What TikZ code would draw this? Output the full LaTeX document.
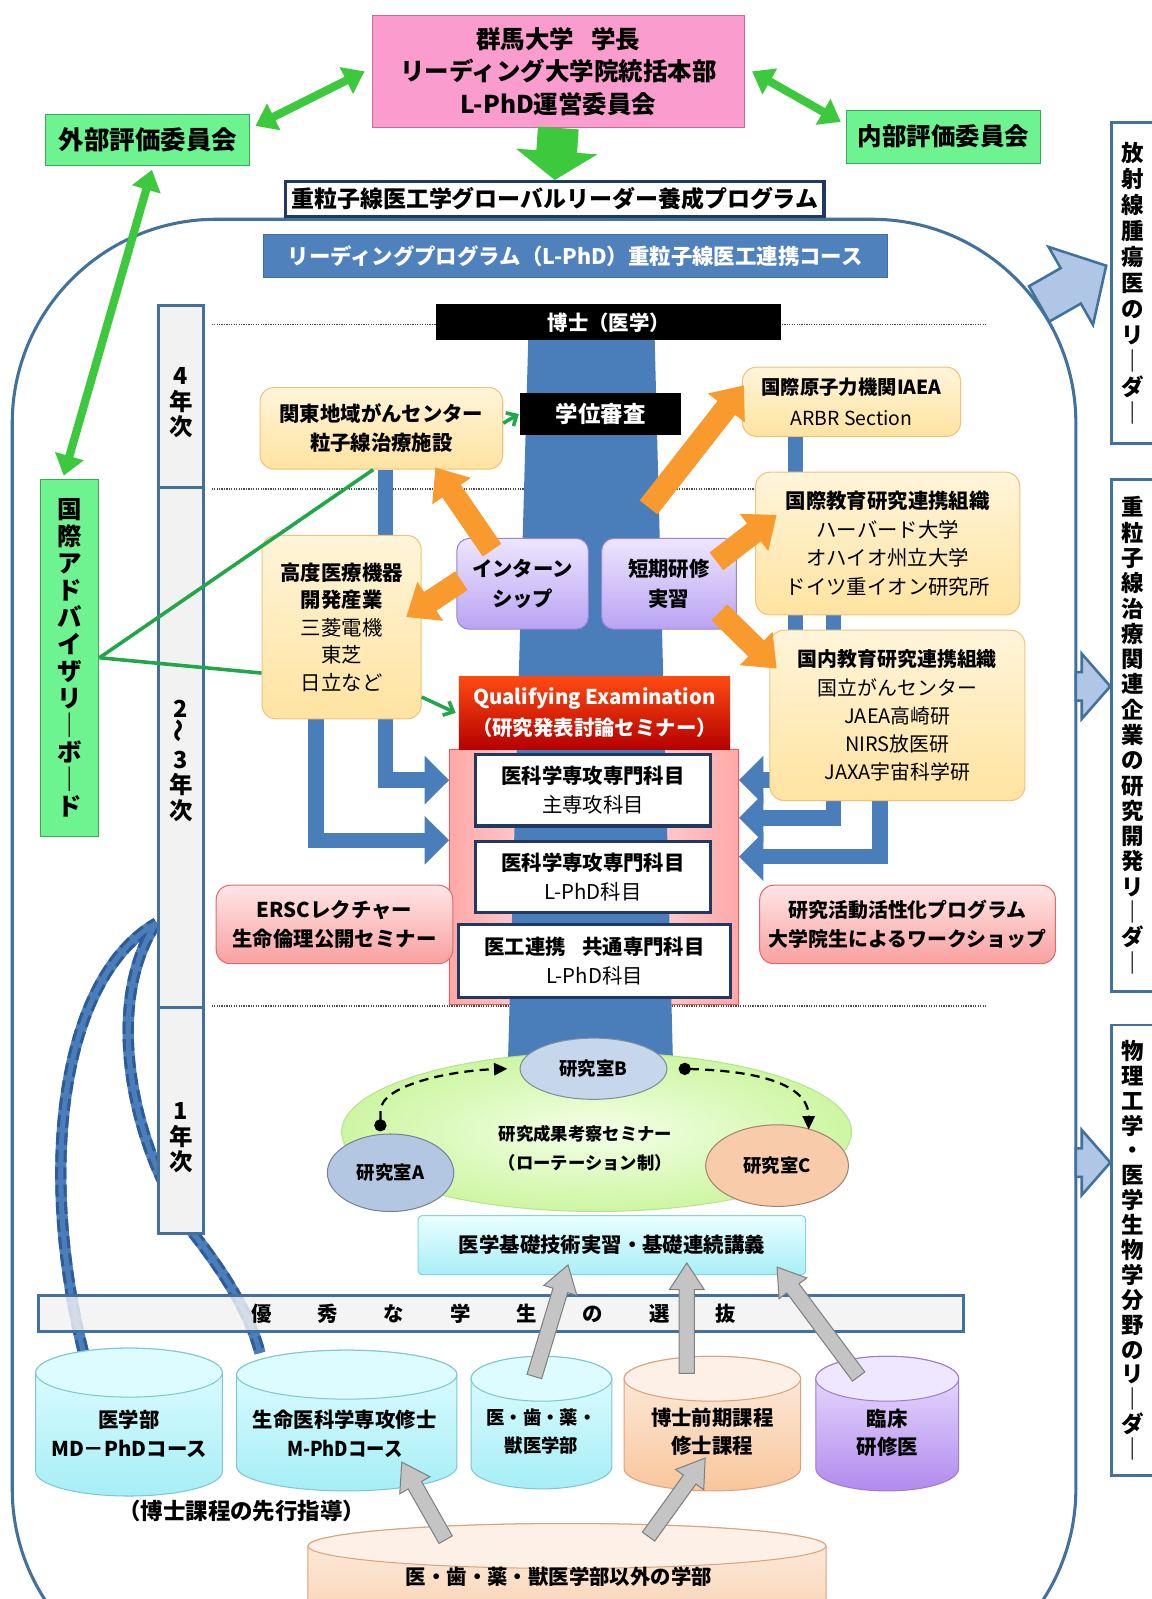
\documentclass[tikz,border=0pt]{standalone}
\usepackage{graphicx}
\usepackage{fontspec}
\setmainfont{Noto Sans CJK JP}
\usetikzlibrary{arrows.meta,calc,shapes.geometric}
\pgfdeclarelayer{back}
\pgfdeclarelayer{mid}
\pgfdeclarelayer{front}
\pgfsetlayers{back,mid,main,front}

\definecolor{outblue}{HTML}{41719C}
\definecolor{towerblue}{HTML}{4A7EBB}
\definecolor{curvedark}{HTML}{2F5C96}
\definecolor{headblue}{HTML}{4F81BD}
\definecolor{headline}{HTML}{3F6FA8}
\definecolor{navy}{HTML}{1F3864}
\definecolor{pinkfill}{HTML}{FA9CCD}
\definecolor{pinkline}{HTML}{C8699A}
\definecolor{mint}{HTML}{6DF390}
\definecolor{mintline}{HTML}{3AA858}
\definecolor{garrow}{HTML}{3DC93D}
\definecolor{gline}{HTML}{21A64A}
\definecolor{ytop}{HTML}{FFF5DA}
\definecolor{ybot}{HTML}{FFE3A0}
\definecolor{yline}{HTML}{F0C27C}
\definecolor{ltop}{HTML}{EDE6FF}
\definecolor{lbot}{HTML}{B9A3F3}
\definecolor{lline}{HTML}{9B82D6}
\definecolor{orng}{HTML}{F89A2E}
\definecolor{qetop}{HTML}{FF4A12}
\definecolor{qebot}{HTML}{B50000}
\definecolor{pbA}{HTML}{FFA8A8}
\definecolor{pbB}{HTML}{FFE8E8}
\definecolor{pbline}{HTML}{FF4F4F}
\definecolor{rtop}{HTML}{FFE6E6}
\definecolor{rbot}{HTML}{F9A0A0}
\definecolor{rline}{HTML}{DE6B6B}
\definecolor{yearfill}{HTML}{F2F2F2}
\definecolor{semA}{HTML}{F4FFE8}
\definecolor{semB}{HTML}{CDF6A2}
\definecolor{semline}{HTML}{B4E58A}
\definecolor{labbc}{HTML}{C7D7EB}
\definecolor{labac}{HTML}{B4C7E2}
\definecolor{labcc}{HTML}{F8CBAA}
\definecolor{ktop}{HTML}{EAFFFF}
\definecolor{kbot}{HTML}{A8EEF6}
\definecolor{kline}{HTML}{87D4E0}
\definecolor{selfill}{HTML}{F2F2F2}
\definecolor{grayarrow}{HTML}{C4C4C4}
\definecolor{grayline}{HTML}{7F7F7F}
\definecolor{lbarrow}{HTML}{AFC6E6}
\definecolor{ctop}{HTML}{E2FDFF}
\definecolor{cbot}{HTML}{A6EEF6}
\definecolor{ccap}{HTML}{DDFCFF}
\definecolor{cline}{HTML}{7FC6D2}
\definecolor{otop}{HTML}{FDEEE2}
\definecolor{obot}{HTML}{F8C69C}
\definecolor{ocap}{HTML}{FDF0E6}
\definecolor{oline}{HTML}{DDA27A}
\definecolor{vtop}{HTML}{EEE4FF}
\definecolor{vbot}{HTML}{B18AEE}
\definecolor{vcap}{HTML}{EFE7FF}
\definecolor{vline}{HTML}{9D7BD6}

\newcommand\myfs[2]{\fontsize{#1}{#2}\selectfont}

% block arrow: [style]{from}{to}{shaft half width}{head half width}{head length}
\newcommand\barrow[6][]{%
  \coordinate (barS) at (#2);
  \coordinate (barT) at (#3);
  \coordinate (barH) at ($(barT)!#6pt!(barS)$);
  \path[#1] ($(barS)!#4pt!90:(barT)$) -- ($(barH)!#4pt!90:(barT)$) -- ($(barH)!#5pt!90:(barT)$) -- (barT) -- ($(barH)!#5pt!-90:(barT)$) -- ($(barH)!#4pt!-90:(barT)$) -- ($(barS)!#4pt!-90:(barT)$) -- cycle;
}

% cylinder: {name}{x1}{x2}{ytop}{ybot}{ry}{colour prefix}
\newcommand\cylshape[7]{%
  \pgfmathsetmacro\cylrx{(#3-#2)/2}%
  \pgfmathsetmacro\cylcx{(#3+#2)/2}%
  \pgfmathsetmacro\cylyt{#4+#6}%
  \pgfmathsetmacro\cylyb{#5-#6}%
  \pgfmathsetmacro\cylw{#3-#2}%
  \pgfmathsetmacro\cylh{#5-#4}%
  \pgfmathsetmacro\cylcy{(#4+#5)/2}%
  \path[draw=#7line, top color=#7top, bottom color=#7bot, line width=1pt] (#2,\cylyt) -- (#2,\cylyb) arc[start angle=180, end angle=360, x radius=\cylrx pt, y radius=#6pt] -- (#3,\cylyt) arc[start angle=0, end angle=180, x radius=\cylrx pt, y radius=#6pt] -- cycle;
  \path[draw=#7line, fill=#7cap, line width=1pt] (\cylcx,\cylyt) ellipse[x radius=\cylrx pt, y radius=#6pt];
  \node[inner sep=0pt, minimum width=\cylw pt, minimum height=\cylh pt] (#1) at (\cylcx,\cylcy) {};
}

\tikzset{
  base/.style={align=center, inner sep=0pt, font=\bfseries\myfs{20}{26}},
  sz/.style 2 args={minimum width=#1pt, minimum height=#2pt},
  fnt/.style 2 args={font=\bfseries\myfs{#1}{#2}},
  pinkbox/.style={base, draw=pinkline, fill=pinkfill, line width=1pt},
  greenbox/.style={base, draw=mintline, fill=mint, line width=1pt},
  progbox/.style={base, draw=navy, fill=white, line width=3pt},
  headbox/.style={base, draw=headline, fill=headblue, line width=1pt, text=white},
  blackbox/.style={base, fill=black, text=white},
  ybox/.style={base, rounded corners=14pt, draw=yline, top color=ytop, bottom color=ybot, line width=1pt},
  lbox/.style={base, rounded corners=12pt, draw=lline, top color=ltop, bottom color=lbot, line width=1pt},
  qebox/.style={base, top color=qetop, bottom color=qebot, text=white},
  wbox/.style={base, draw=navy, fill=white, line width=3pt},
  rbox/.style={base, rounded corners=14pt, draw=rline, top color=rtop, bottom color=rbot, line width=1pt},
  pbox/.style={base, draw=pbline, left color=pbA, right color=pbA, middle color=pbB, line width=1pt},
  yearseg/.style={draw=outblue, fill=yearfill, line width=3pt, inner sep=0pt},
  vtext/.style={align=center, inner sep=0pt},
  semell/.style={ellipse, draw=semline, inner color=semA, outer color=semB, line width=1pt, inner sep=0pt},
  labell/.style={base, ellipse, line width=1pt, fill=#1, draw=#1!65!black},
  kisobox/.style={base, rounded corners=4pt, draw=kline, top color=ktop, bottom color=kbot, line width=1pt},
  selbox/.style={base, draw=outblue, fill=selfill, fill opacity=0.82, text opacity=1, line width=3pt},
  rightbox/.style={base, draw=outblue, fill=white, line width=2.5pt},
  outline/.style={draw=outblue, line width=3pt},
  dotline/.style={draw=black!70, line width=1.2pt, dash pattern=on 1.2pt off 1.2pt},
  gdbl/.style={draw=garrow, line width=8pt, {Triangle[length=20pt,width=28pt]}-{Triangle[length=20pt,width=28pt]}},
  gthin/.style={draw=gline, line width=3.5pt, -{Straight Barb[length=8pt,width=15pt]}},
  gplain/.style={draw=gline, line width=3.5pt},
  bluel/.style={draw=towerblue, line width=15pt, -{Triangle[length=24pt,width=46pt]}},
  curvebase/.style={draw=towerblue, line width=11pt},
  curvedash/.style={draw=curvedark, line width=11pt, dash pattern=on 12pt off 5pt},
  curvetop/.style={draw=towerblue, line width=5pt},
  labarrow/.style={draw=black, line width=2.2pt, dash pattern=on 9pt off 6pt, {Circle[length=12pt]}-{Triangle[length=13pt,width=12pt]}},
  cyltxt/.style={base, font=\bfseries\myfs{20}{28}},
  grayblk/.style={fill=grayarrow, draw=grayline, line width=1pt},
  lblk/.style={fill=lbarrow, draw=outblue, line width=2.5pt}
}

\begin{document}
\begin{tikzpicture}[x=1pt,y=-1pt]
\useasboundingbox (0,0) rectangle (1129,1568);

\begin{pgfonlayer}{back}
  \fill[white] (0,0) rectangle (1129,1568);
  \draw[outline, rounded corners=200pt] (12,215) rectangle (1055,1660);
  \node[pbox, sz={283}{250}] (pback) at (582.5,860) {};
\end{pgfonlayer}

% ---------- top ----------
\node[pinkbox, sz={365}{110}, fnt={24}{32}] (top) at (547.5,70) {群馬大学\hspace{0.7em}学長\\リーディング大学院統括本部\\L-PhD運営委員会};
\node[greenbox, sz={200}{50}, fnt={25}{30}] (gaibu) at (145,137) {外部評価委員会};
\node[greenbox, sz={190}{52}, fnt={24}{30}] (naibu) at (925,134) {内部評価委員会};
\node[progbox, sz={528}{34}, fnt={22.5}{28}] (prog) at (544,195) {重粒子線医工学グローバルリーダー養成プログラム};
\node[headbox, sz={612}{42}, fnt={21}{26}] (head) at (564,251) {リーディングプログラム（L-PhD）重粒子線医工連携コース};

% ---------- year bar ----------
\node[yearseg, sz={45}{178}] (y4) at (177.5,389) {};
\node[yearseg, sz={45}{510}] (y23) at (177.5,733) {};
\node[yearseg, sz={45}{222}] (y1) at (177.5,1099) {};
\node[vtext, fnt={23}{25}] (t4) at (177.5,395) {4\\年\\次};
\node[vtext, fnt={23}{25}] (t23) at (177.5,746) {2\\\rotatebox{90}{～}\\3\\年\\次};
\node[vtext, fnt={23}{25}] (t1) at (177.5,1116) {1\\年\\次};

% ---------- upper boxes ----------
\node[blackbox, sz={338}{35}, fnt={20}{24}] (hakase) at (597,316) {博士（医学）};
\node[blackbox, sz={158}{42}, fnt={22}{26}] (gakui) at (589,406) {学位審査};
\node[ybox, sz={238}{80}, fnt={20}{28}] (kanto) at (374,420) {関東地域がんセンター\\粒子線治療施設};
\node[ybox, sz={214}{68}, fnt={19}{30}] (iaea) at (835,394) {国際原子力機関IAEA\\{\mdseries ARBR Section}};
\node[ybox, sz={259}{140}, fnt={20}{28}] (kokusai) at (870.5,533) {国際教育研究連携組織\\{\mdseries ハーバード大学}\\{\mdseries オハイオ州立大学}\\{\mdseries ドイツ重イオン研究所}};
\node[ybox, sz={156}{180}, fnt={20}{27}] (kodo) at (335,615) {高度医療機器\\開発産業\\{\mdseries 三菱電機}\\{\mdseries 東芝}\\{\mdseries 日立など}};
\node[ybox, sz={250}{167}, fnt={19.5}{27.5}] (kokunai) at (880,701.5) {国内教育研究連携組織\\{\mdseries 国立がんセンター}\\{\mdseries JAEA高崎研}\\{\mdseries NIRS放医研}\\{\mdseries JAXA宇宙科学研}};
\node[lbox, sz={129}{89}, fnt={20}{29}] (intern) at (512.5,572.5) {インターン\\シップ};
\node[lbox, sz={132}{89}, fnt={20}{29}] (tanki) at (656,572.5) {短期研修\\実習};
\node[greenbox, sz={57}{350}, fnt={24}{26.5}] (adv) at (68.5,645) {国\\際\\ア\\ド\\バ\\イ\\ザ\\リ\\｜\\ボ\\｜\\ド};

% ---------- courses ----------
\node[qebox, sz={266}{72}, fnt={20}{30}] (qe) at (583,699) {Qualifying Examination\\（研究発表討論セミナー）};
\node[wbox, sz={231}{70}, fnt={20}{28}] (ika1) at (581.5,775) {医科学専攻専門科目\\{\mdseries 主専攻科目}};
\node[wbox, sz={231}{70}, fnt={20}{28}] (ika2) at (581.5,860) {医科学専攻専門科目\\{\mdseries L-PhD科目}};
\node[wbox, sz={266}{71}, fnt={20}{28}] (ikou) at (583,942.5) {医工連携\hspace{0.8em}共通専門科目\\{\mdseries L-PhD科目}};
\node[rbox, sz={232}{77}, fnt={20}{29}] (ersc) at (328,906.5) {ERSCレクチャー\\生命倫理公開セミナー};
\node[rbox, sz={290}{77}, fnt={19.5}{29}] (kenkyu) at (890,906.5) {研究活動活性化プログラム\\大学院生によるワークショップ};

% ---------- first year ----------
\node[semell, minimum width=500pt, minimum height=156pt] (sem) at (585,1110) {};
\node[vtext, fnt={17}{28}] (semtxt) at (574,1126) {研究成果考察セミナー\\（ローテーション制）};
\node[labell=labbc, minimum width=144pt, minimum height=60pt, fnt={18}{22}] (labB) at (582,1048) {研究室B};
\node[labell=labac, minimum width=124pt, minimum height=76pt, fnt={18}{22}] (labA) at (383,1150) {研究室A};
\node[labell=labcc, minimum width=140pt, minimum height=80pt, fnt={18}{22}] (labC) at (762,1143) {研究室C};
\node[kisobox, sz={380}{58}, fnt={20}{24}] (kiso) at (600,1221) {医学基礎技術実習・基礎連続講義};
\node[selbox, sz={907}{35}, fnt={20}{24}] (sel) at (491.5,1288) {};
\node[vtext, fnt={20}{24}] (seltxt) at (484,1288) {優\hspace{45pt}秀\hspace{45pt}な\hspace{45pt}学\hspace{45pt}生\hspace{45pt}の\hspace{45pt}選\hspace{45pt}抜};

% ---------- cylinders ----------
\cylshape{cylA}{35}{218}{1322}{1467}{24}{c}
\cylshape{cylB}{232}{448}{1324}{1462}{24}{c}
\cylshape{cylC}{462}{600}{1330}{1460}{22}{c}
\cylshape{cylD}{612}{785}{1330}{1462}{22}{o}
\cylshape{cylE}{800}{940}{1330}{1462}{22}{v}
\cylshape{cylF}{302}{810}{1494}{1640}{22}{o}
\node[cyltxt] (cylAt) at (126.5,1406) {医学部\\MD－PhDコース};
\node[cyltxt] (cylBt) at (338,1406) {生命医科学専攻修士\\\scalebox{0.9}[1]{M-PhDコース}};
\node[cyltxt, font=\bfseries\myfs{18}{28}] (cylCt) at (531,1404) {医・歯・薬・\\獣医学部};
\node[cyltxt] (cylDt) at (698.5,1404) {博士前期課程\\修士課程};
\node[cyltxt] (cylEt) at (870,1405) {臨床\\研修医};
\node[cyltxt] (cylFt) at (548,1546) {医・歯・薬・獣医学部以外の学部};
\node[base, fnt={22}{26}] (senkou) at (237,1482) {（博士課程の先行指導）};

% ---------- right column ----------
\node[rightbox, sz={42}{315}, fnt={22}{25.5}] (r1) at (1111,277.5) {放\\射\\線\\腫\\瘍\\医\\の\\リ\\｜\\ダ\\｜};
\node[rightbox, sz={42}{502}, fnt={22}{24.8}] (r2) at (1111,721) {重\\粒\\子\\線\\治\\療\\関\\連\\企\\業\\の\\研\\究\\開\\発\\リ\\｜\\ダ\\｜};
\node[rightbox, sz={42}{442}, fnt={22}{24.4}] (r3) at (1111,1226) {物\\理\\工\\学\\・\\医\\学\\生\\物\\学\\分\\野\\の\\リ\\｜\\ダ\\｜};

% ---------- background layer ----------
\begin{pgfonlayer}{back}
  \draw[dotline] ([xshift=6pt,yshift=-20pt]y4.north east) -- +(760,0);
  \draw[dotline] ([xshift=6pt]y4.south east) -- +(760,0);
  \draw[dotline] ([xshift=6pt]y1.north east) -- +(760,0);
  \coordinate (meet) at ([yshift=-172pt]y23.west);
  \foreach \st in {curvebase,curvedash,curvetop}{
    \draw[\st] ([xshift=-45pt,yshift=-3pt]cylA.north) .. controls (38,1150) and (58,960) .. (meet);
    \draw[\st] (meet) .. controls (100,985) and (130,1130) .. (190,1210) .. controls (225,1255) and (245,1290) .. ([xshift=-85pt,yshift=-3pt]cylB.north);
  }
\end{pgfonlayer}

% ---------- middle layer ----------
\begin{pgfonlayer}{mid}
  \fill[towerblue] (518,333) -- (642,333) -- (660,1045) -- (498,1045) -- cycle;
  \coordinate (pL1) at ($(pback.west)+(0,-95)$);
  \coordinate (pL2) at ($(pback.west)+(0,-36)$);
  \coordinate (pR1) at ($(pback.east)+(0,-95)$);
  \coordinate (pR2) at ($(pback.east)+(0,-58)$);
  \coordinate (pR3) at ($(pback.east)+(0,-20)$);
  \draw[bluel] ([xshift=4pt]kanto.south) |- (pL1);
  \draw[bluel] ([xshift=-25pt]kodo.south) |- (pL2);
  \draw[bluel] ([xshift=-55pt]iaea.south) |- (pR1);
  \draw[bluel] ([xshift=-53pt]kokusai.south) |- (pR2);
  \draw[bluel] ([xshift=-17pt]kokunai.south) |- (pR3);
\end{pgfonlayer}

% ---------- front layer ----------
\begin{pgfonlayer}{front}
  % green
  \draw[gdbl] ([xshift=5pt,yshift=-12pt]gaibu.north east) -- ([xshift=-7pt]top.west);
  \draw[gdbl] ([xshift=7pt]top.east) -- ([xshift=-5pt,yshift=-12pt]naibu.north west);
  \draw[gdbl] ([xshift=4pt,yshift=-4pt]gaibu.south) -- ([xshift=-6pt,yshift=3pt]adv.north);
  \barrow[fill=garrow]{top.south}{prog.north}{20}{40}{28}
  \draw[gplain] (adv.east) -- ([xshift=-8pt]kanto.south);
  \draw[gplain] (adv.east) -- ([yshift=-45pt]kodo.west);
  \draw[gthin] ([yshift=5pt]kanto.east) -- ([xshift=-1pt]gakui.west);
  \draw[gthin] ([yshift=22pt]kodo.south east) -- ([xshift=-3pt]qe.west);
  % orange
  \barrow[fill=orng]{[xshift=-30pt,yshift=-12pt]intern.north}{[xshift=53pt,yshift=2pt]kanto.south}{11}{23}{28}
  \barrow[fill=orng]{[xshift=5pt,yshift=3pt]intern.west}{[xshift=-15pt,yshift=10pt]kodo.east}{11}{23}{28}
  \barrow[fill=orng]{[xshift=-20pt,yshift=30pt]tanki.north}{[xshift=2pt,yshift=16pt]iaea.west}{11}{23}{28}
  \barrow[fill=orng]{[xshift=-20pt,yshift=22pt]tanki.east}{[xshift=21pt,yshift=28pt]kokusai.west}{11}{23}{28}
  \barrow[fill=orng]{[xshift=-17pt,yshift=-28pt]tanki.east}{[xshift=7pt,yshift=46pt]kokunai.west}{11}{23}{28}
  % lab rotation
  \draw[labarrow] ([xshift=-10pt,yshift=2pt]labA.north) -- ++(0,-20) .. controls +(0,-25) and (440,1050) .. ([xshift=-12pt]labB.west);
  \draw[labarrow] ([xshift=11pt]labB.east) .. controls (740,1050) and (793,1062) .. ([xshift=31pt,yshift=-5pt]labC.north);
  % gray
  \barrow[grayblk]{[xshift=-7pt,yshift=-20pt]cylC.north}{[xshift=-43pt,yshift=10pt]kiso.south}{7.5}{17}{26}
  \barrow[grayblk]{[xshift=-25pt,yshift=-17pt]cylD.north}{[xshift=73.5pt,yshift=12pt]kiso.south}{7.5}{17}{26}
  \barrow[grayblk]{[xshift=-28pt,yshift=-20pt]cylE.north}{[xshift=162pt,yshift=8pt]kiso.south}{7.5}{17}{26}
  \barrow[grayblk]{[xshift=-119pt,yshift=-16pt]cylF.north}{[xshift=54pt,yshift=-110pt]cylB.north}{7.5}{17}{26}
  \barrow[grayblk]{[xshift=80pt,yshift=-13pt]cylF.north}{[xshift=-7pt,yshift=-100pt]cylD.north}{7.5}{17}{26}
  % light blue outputs
  \coordinate (oTR) at (1019,298);
  \coordinate (oR2) at (1055,673);
  \coordinate (oR3) at (1055,1140);
  \barrow[lblk]{oTR}{[xshift=-4pt,yshift=17pt]r1.west}{20}{44}{40}
  \barrow[lblk]{oR2}{[yshift=48pt]r2.west}{14}{32}{28}
  \barrow[lblk]{oR3}{[yshift=86pt]r3.west}{14}{32}{28}
\end{pgfonlayer}
\end{tikzpicture}
\end{document}
